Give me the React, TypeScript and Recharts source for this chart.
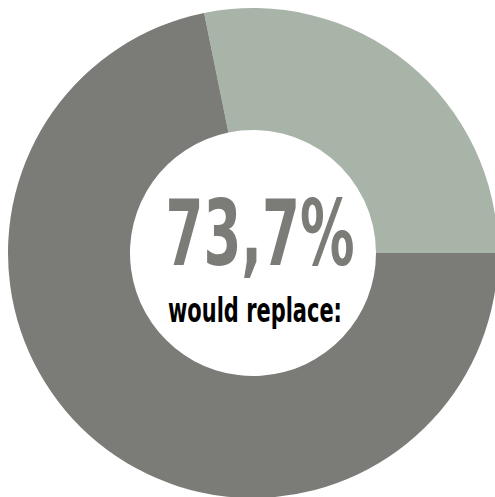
import React from 'react'
import { PieChart, Pie, Cell, Label } from 'recharts'

const segments = ['would not replace', 'would replace']
const shares = [28.2, 71.8]
const colors = ['#a9b4a9', '#7b7c77']
const headline = '73,7%'
const caption = 'would replace:'

const data = segments.map((name, i) => ({ name, value: shares[i] }))

const CX = 253
const CY = 253

const CenterText = () => (
  <g fontFamily="'DejaVu Sans Condensed', 'DejaVu Sans', sans-serif" fontWeight="bold">
    <text
      x={CX + 7}
      y={CY + 12}
      textAnchor="middle"
      fontSize={90}
      fill="#7b7c77"
      textLength={189}
      lengthAdjust="spacingAndGlyphs"
    >
      {headline}
    </text>
    <text
      x={CX + 2}
      y={CY + 69}
      textAnchor="middle"
      fontSize={34}
      fill="#000000"
      textLength={174}
      lengthAdjust="spacingAndGlyphs"
    >
      {caption}
    </text>
  </g>
)

export default function App() {
  return (
    <div style={{ position: 'fixed', left: 0, top: 0, width: 495, height: 497, overflow: 'hidden', background: '#fff' }}>
      <PieChart width={495} height={497} margin={{ top: 0, right: 0, bottom: 0, left: 0 }}>
        <Pie
          data={data}
          dataKey="value"
          nameKey="name"
          cx={CX}
          cy={CY}
          innerRadius={123}
          outerRadius={245}
          startAngle={0}
          endAngle={360}
          stroke="none"
          isAnimationActive={false}
        >
          {data.map((d, i) => (
            <Cell key={d.name} fill={colors[i]} />
          ))}
          <Label position="center" content={<CenterText />} />
        </Pie>
      </PieChart>
    </div>
  )
}
